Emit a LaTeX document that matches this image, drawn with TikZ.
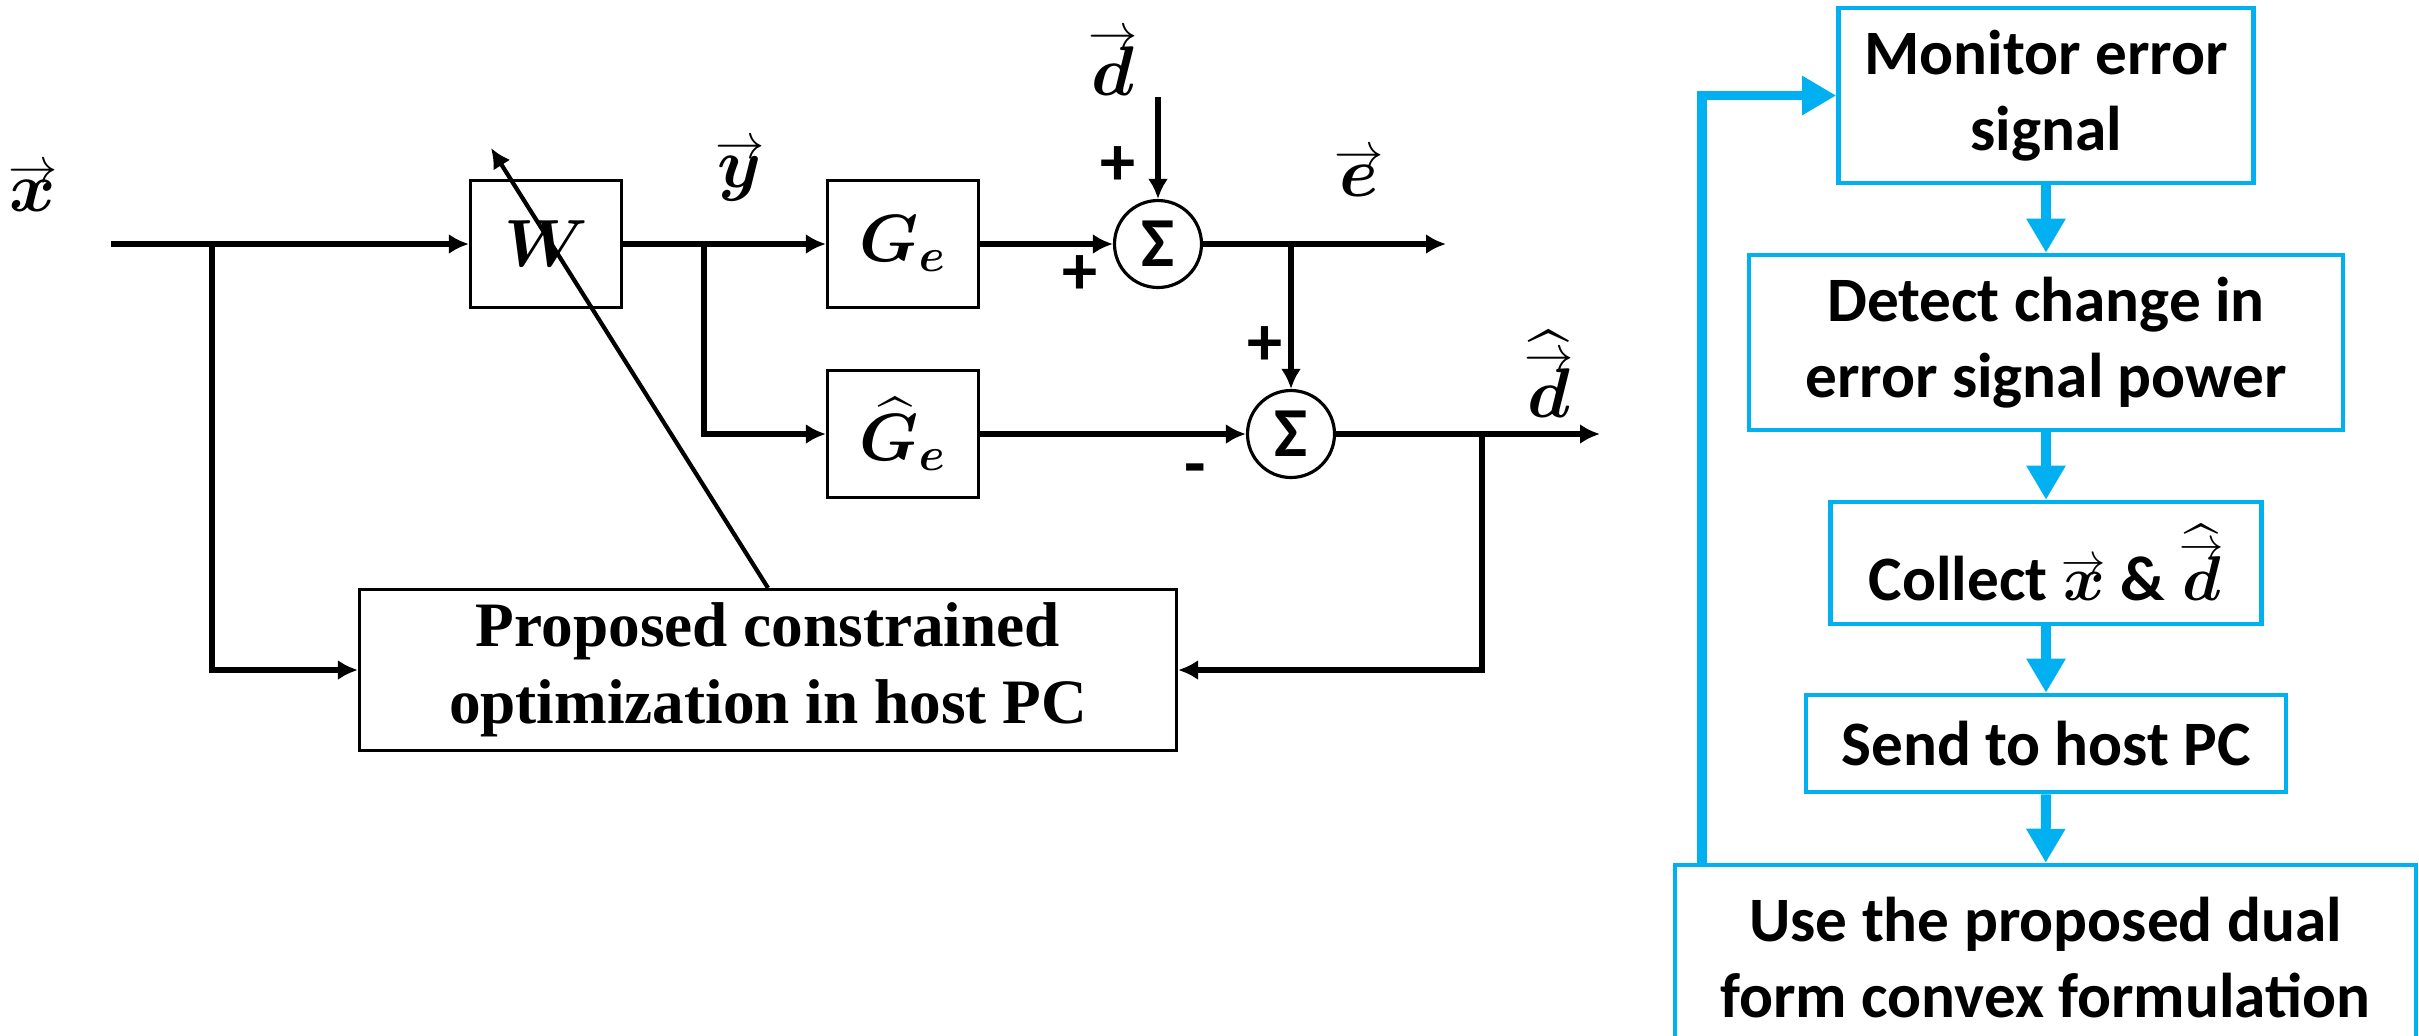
\RequirePackage{fix-cm}
\documentclass[tikz,border=0pt]{standalone}
\usepackage{amsmath,bm}
\usepackage{fontspec}
\setmainfont{Liberation Serif}
\newfontfamily\flowfont{Carlito}
\usetikzlibrary{arrows.meta,positioning}
\definecolor{flowblue}{RGB}{0,176,240}
\newcommand{\vecb}[1]{\mathord{\vbox{\offinterlineskip\ialign{\hfil##\hfil\cr
  $\scriptstyle\rightarrow$\cr\noalign{\kern-0.5pt}$\bm{#1}$\cr}}}}

\begin{document}
\begin{tikzpicture}[
  blk/.style={draw, line width=0.9pt, minimum width=1.51cm, minimum height=1.27cm, font=\fontsize{19}{23}\selectfont},
  sumnode/.style={draw, circle, line width=0.9pt, minimum size=0.87cm, inner sep=0pt, font=\flowfont\bfseries\fontsize{20}{24}\selectfont},
  opt/.style={draw, line width=0.9pt, minimum width=8.17cm, minimum height=1.61cm, align=center, font=\bfseries\fontsize{18}{22}\selectfont},
  lab/.style={font=\fontsize{20}{24}\selectfont},
  sgn/.style={font=\flowfont\bfseries\fontsize{20}{24}\selectfont},
  sig/.style={-{Latex[length=2mm,width=2mm]}, line width=1.8pt},
  tune/.style={-{Latex[length=2mm,width=2mm]}, line width=1.2pt},
  flowbox/.style={draw=flowblue, line width=1.3pt, inner sep=2pt, align=center, font=\flowfont\bfseries\fontsize{18}{21.6}\selectfont},
  flowarr/.style={flowblue, line width=2.8pt, -{Triangle[length=3.4mm,width=3.7mm]}}]
  \useasboundingbox (0,0) rectangle (24.19,-10.35);
  \clip (0,0) rectangle (24.19,-10.35);
  % blocks of the loop
  \node[blk] (W) at (5.46,-2.44) {$\bm{W}$};
  \node[blk] (Ge) at (9.03,-2.44) {$\bm{G_e}$};
  \node[blk] (Gh) at (9.03,-4.34) {$\widehat{\bm G}_{\bm e}$};
  \node[sumnode] (s1) at (11.58,-2.44) {Σ};
  \node[sumnode] (s2) at (12.91,-4.34) {Σ};
  \node[opt] (optim) at (7.68,-6.70) {Proposed constrained\\optimization in host PC};
  \coordinate (xin) at (1.11,-2.44);
  \coordinate (xbr) at (2.12,-2.44);
  \coordinate (ybr) at (7.04,-2.44);
  \coordinate (ebr) at (12.91,-2.44);
  \coordinate (eout) at (14.46,-2.44);
  \coordinate (dbr) at (14.82,-4.34);
  \coordinate (dout) at (16.0,-4.34);
  \coordinate (din) at (11.58,-0.97);
  \coordinate (tip) at (4.91,-1.48);
  % signals
  \draw[sig] (xin) -- (W);
  \draw[sig] (xbr) |- (optim.west);
  \draw[sig] (W) -- (Ge);
  \draw[sig] (ybr) |- (Gh.west);
  \draw[sig] (Ge) -- (s1);
  \draw[sig] (din) -- (s1);
  \draw[sig] (s1) -- (eout);
  \draw[sig] (ebr) -- (s2);
  \draw[sig] (Gh) -- (s2);
  \draw[sig] (s2) -- (dout);
  \draw[sig] (dbr) |- (optim.east);
  \draw[tune] (optim.north) -- (tip);
  % labels and signs
  \node[lab] (xlab) at (0.33,-1.88) {$\vecb{x}$};
  \node[lab] (ylab) at (7.40,-1.71) {$\vecb{y}$};
  \node[lab] (dlab) at (11.13,-0.63) {$\vecb{d}$};
  \node[lab] (elab) at (13.59,-1.73) {$\vecb{e}$};
  \node[lab] (dhlab) at (15.49,-3.74) {$\widehat{\vecb{d}}$};
  \node[sgn] (p1) at (11.18,-1.66) {+};
  \node[sgn] (p2) at (10.80,-2.75) {+};
  \node[sgn] (p3) at (12.65,-3.46) {+};
  \node[sgn] (m1) at (11.95,-4.76) {-};
  % flow of the procedure
  \node[flowbox, minimum width=4.15cm, minimum height=1.75cm] (b1) at (20.46,-0.955) {Monitor error\\signal};
  \node[flowbox, minimum width=5.94cm, minimum height=1.75cm] (b2) at (20.46,-3.425) {Detect change in\\error signal power};
  \node[flowbox, minimum width=4.31cm, minimum height=1.22cm] (b3) at (20.46,-5.63) {Collect $\vecb{x}$ \& $\widehat{\vecb{d}}$};
  \node[flowbox, minimum width=4.8cm, minimum height=0.97cm] (b4) at (20.46,-7.435) {Send to host PC};
  \node[flowbox, minimum width=7.41cm, minimum height=1.85cm] (b5) at (20.455,-9.575) {Use the proposed dual\\form convex formulation};
  \draw[flowarr] (b1) -- (b2);
  \draw[flowarr] (b2) -- (b3);
  \draw[flowarr] (b3) -- (b4);
  \draw[flowarr] (b4) -- (b5);
  \draw[flowarr] ([xshift=2.9mm]b5.north west) |- (b1.west);
\end{tikzpicture}
\end{document}
